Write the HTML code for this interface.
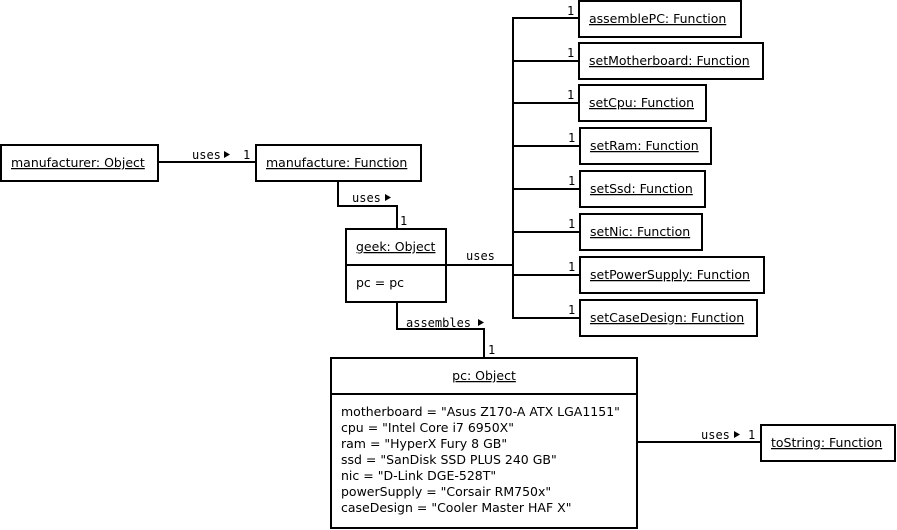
<!DOCTYPE html>
<html><head><meta charset="utf-8"><style>
html,body{margin:0;padding:0;background:#fff}
svg{display:block}
text{font-family:"DejaVu Sans","Liberation Sans",sans-serif;font-size:12.5px;fill:#000}
.u{text-decoration:underline}
.m{font-family:"DejaVu Sans Mono","Liberation Mono",monospace;font-size:12px}
rect{fill:#fff;stroke:#000;stroke-width:2}
path,line{stroke:#000;stroke-width:2;fill:none}
</style></head><body>
<svg width="897" height="530" viewBox="0 0 897 530">
<!-- connectors -->
<line x1="158" y1="162" x2="256" y2="162"/>
<path d="M338 181 V206 H397 V229"/>
<path d="M397 302 V329 H484 V358"/>
<line x1="637" y1="442" x2="761" y2="442"/>
<line x1="446" y1="265" x2="513" y2="265"/>
<path d="M579 18 H513 V318 H580"/>
<line x1="513" y1="61" x2="579" y2="61"/>
<line x1="513" y1="103" x2="579" y2="103"/>
<line x1="513" y1="146" x2="580" y2="146"/>
<line x1="513" y1="189" x2="580" y2="189"/>
<line x1="513" y1="232" x2="580" y2="232"/>
<line x1="513" y1="275" x2="580" y2="275"/>

<!-- connector labels -->
<text class="m" x="192" y="159">uses</text><polygon points="224,151 224,158 230,154.5"/>
<text class="m" x="243" y="159">1</text>
<text class="m" x="352" y="202">uses</text><polygon points="385,194 385,201 391,197.5"/>
<text class="m" x="400" y="225">1</text>
<text class="m" x="466" y="260">uses</text>
<text class="m" x="406" y="327">assembles</text><polygon points="478,319 478,326 484,322.5"/>
<text class="m" x="488" y="354">1</text>
<text class="m" x="701" y="439">uses</text><polygon points="734,431 734,438 740,434.5"/>
<text class="m" x="748" y="439">1</text>
<text class="m" x="567" y="15">1</text>
<text class="m" x="567" y="57">1</text>
<text class="m" x="567" y="99">1</text>
<text class="m" x="568" y="142">1</text>
<text class="m" x="568" y="185">1</text>
<text class="m" x="568" y="228">1</text>
<text class="m" x="568" y="271">1</text>
<text class="m" x="568" y="314">1</text>

<!-- boxes -->
<rect x="1" y="145" width="157" height="36"/><text class="u" x="11" y="167">manufacturer: Object</text>
<rect x="256" y="145" width="165" height="36"/><text class="u" x="266" y="167">manufacture: Function</text>
<rect x="346" y="229" width="100" height="73"/><line x1="346" y1="265" x2="446" y2="265"/>
<text class="u" x="356" y="251">geek: Object</text><text x="356" y="287">pc = pc</text>

<rect x="579" y="1" width="162" height="36"/><text class="u" x="589" y="23">assemblePC: Function</text>
<rect x="579" y="43" width="184" height="36"/><text class="u" x="589" y="65">setMotherboard: Function</text>
<rect x="579" y="85" width="127" height="36"/><text class="u" x="589" y="107">setCpu: Function</text>
<rect x="580" y="128" width="131" height="36"/><text class="u" x="590" y="150">setRam: Function</text>
<rect x="580" y="171" width="125" height="36"/><text class="u" x="590" y="193">setSsd: Function</text>
<rect x="580" y="214" width="122" height="36"/><text class="u" x="590" y="236">setNic: Function</text>
<rect x="580" y="257" width="184" height="36"/><text class="u" x="590" y="279">setPowerSupply: Function</text>
<rect x="580" y="300" width="177" height="36"/><text class="u" x="590" y="322">setCaseDesign: Function</text>

<rect x="331" y="358" width="306" height="170"/><line x1="331" y1="394" x2="637" y2="394"/>
<text class="u" x="484" y="380" text-anchor="middle">pc: Object</text>
<text x="341" y="416">motherboard = "Asus Z170-A ATX LGA1151"</text>
<text x="341" y="432">cpu = "Intel Core i7 6950X"</text>
<text x="341" y="448">ram = "HyperX Fury 8 GB"</text>
<text x="341" y="464">ssd = "SanDisk SSD PLUS 240 GB"</text>
<text x="341" y="480">nic = "D-Link DGE-528T"</text>
<text x="341" y="496">powerSupply = "Corsair RM750x"</text>
<text x="341" y="512">caseDesign = "Cooler Master HAF X"</text>

<rect x="761" y="425" width="134" height="36"/><text class="u" x="771" y="447">toString: Function</text>
</svg>
</body></html>
